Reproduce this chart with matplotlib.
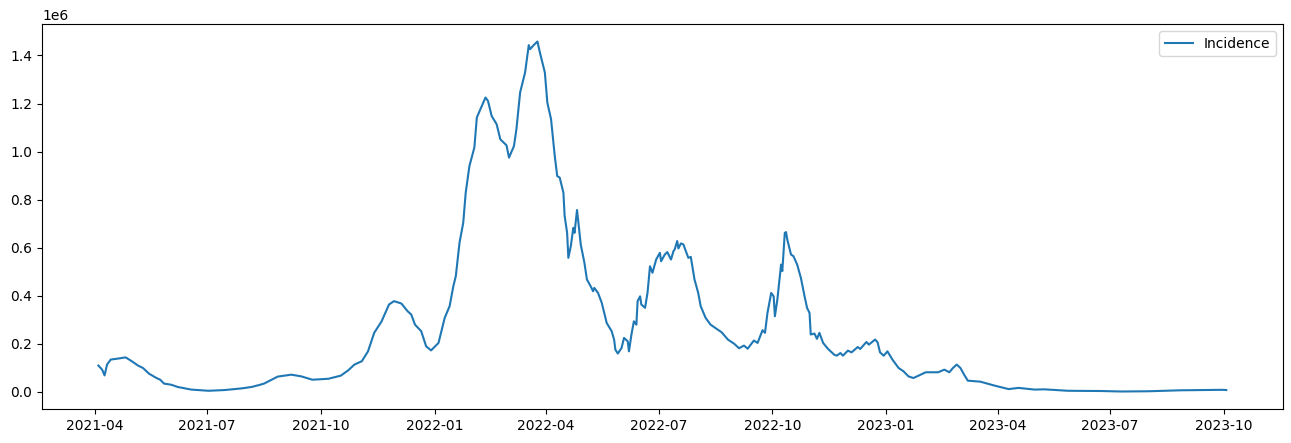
import pandas as pd
from matplotlib import pyplot as plt
import matplotlib.dates as mdates

# -------------------- Data --------------------
dates = [
    "2021-04-04", "2021-04-07", "2021-04-09", "2021-04-11", "2021-04-14", "2021-04-20",
    "2021-04-26", "2021-05-01", "2021-05-06", "2021-05-10", "2021-05-15", "2021-05-21",
    "2021-05-24", "2021-05-27", "2021-06-02", "2021-06-07", "2021-06-18", "2021-07-02",
    "2021-07-15", "2021-07-29", "2021-08-06", "2021-08-12", "2021-08-16", "2021-08-27",
    "2021-09-07", "2021-09-15", "2021-09-24", "2021-10-07", "2021-10-17", "2021-10-23",
    "2021-10-28", "2021-11-03", "2021-11-08", "2021-11-13", "2021-11-19", "2021-11-25",
    "2021-11-29", "2021-12-05", "2021-12-10", "2021-12-13", "2021-12-16", "2021-12-21",
    "2021-12-25", "2021-12-29", "2022-01-04", "2022-01-09", "2022-01-13", "2022-01-16",
    "2022-01-18", "2022-01-21", "2022-01-24", "2022-01-26", "2022-01-29", "2022-02-02",
    "2022-02-04", "2022-02-08", "2022-02-11", "2022-02-13", "2022-02-16", "2022-02-20",
    "2022-02-23", "2022-02-28", "2022-03-02", "2022-03-06", "2022-03-08", "2022-03-11",
    "2022-03-15", "2022-03-18", "2022-03-19", "2022-03-22", "2022-03-25", "2022-03-27",
    "2022-03-31", "2022-04-02", "2022-04-05", "2022-04-08", "2022-04-10", "2022-04-12",
    "2022-04-15", "2022-04-16", "2022-04-18", "2022-04-19", "2022-04-21", "2022-04-23",
    "2022-04-24", "2022-04-26", "2022-04-27", "2022-04-29", "2022-05-02", "2022-05-04",
    "2022-05-07", "2022-05-09", "2022-05-10", "2022-05-13", "2022-05-16", "2022-05-20",
    "2022-05-24", "2022-05-26", "2022-05-27", "2022-05-29", "2022-06-01", "2022-06-03",
    "2022-06-06", "2022-06-07", "2022-06-09", "2022-06-11", "2022-06-13", "2022-06-14",
    "2022-06-16", "2022-06-17", "2022-06-20", "2022-06-22", "2022-06-24", "2022-06-26",
    "2022-06-29", "2022-07-02", "2022-07-03", "2022-07-06", "2022-07-08", "2022-07-11",
    "2022-07-13", "2022-07-14", "2022-07-16", "2022-07-17", "2022-07-19", "2022-07-21",
    "2022-07-25", "2022-07-27", "2022-07-30", "2022-08-02", "2022-08-04", "2022-08-08",
    "2022-08-12", "2022-08-17", "2022-08-21", "2022-08-26", "2022-08-31", "2022-09-04",
    "2022-09-08", "2022-09-11", "2022-09-16", "2022-09-19", "2022-09-23", "2022-09-25",
    "2022-09-27", "2022-09-30", "2022-10-02", "2022-10-03", "2022-10-05", "2022-10-08",
    "2022-10-09", "2022-10-11", "2022-10-12", "2022-10-13", "2022-10-16", "2022-10-18",
    "2022-10-21", "2022-10-24", "2022-10-27", "2022-10-29", "2022-10-31", "2022-11-01",
    "2022-11-04", "2022-11-06", "2022-11-08", "2022-11-11", "2022-11-15", "2022-11-20",
    "2022-11-22", "2022-11-25", "2022-11-27", "2022-12-01", "2022-12-04", "2022-12-09",
    "2022-12-11", "2022-12-16", "2022-12-18", "2022-12-23", "2022-12-25", "2022-12-27",
    "2022-12-30", "2023-01-02", "2023-01-06", "2023-01-11", "2023-01-15", "2023-01-19",
    "2023-01-23", "2023-01-28", "2023-02-02", "2023-02-12", "2023-02-17", "2023-02-21",
    "2023-02-24", "2023-02-27", "2023-03-02", "2023-03-05", "2023-03-08", "2023-03-18",
    "2023-03-30", "2023-04-10", "2023-04-18", "2023-05-01", "2023-05-09", "2023-05-28",
    "2023-06-24", "2023-07-10", "2023-08-01", "2023-08-27", "2023-09-13", "2023-09-30",
    "2023-10-03",
]

incidence = [
    110000, 93000, 69000, 114000, 135000, 139000,
    144000, 128000, 110000, 100000, 76000, 58000,
    51000, 35000, 30000, 21000, 10000, 5000,
    8000, 15000, 21000, 29000, 35000, 64000,
    72000, 65000, 51000, 55000, 68000, 90000,
    114000, 128000, 169000, 246000, 294000, 364000,
    378000, 368000, 336000, 322000, 280000, 253000,
    190000, 173000, 204000, 308000, 357000, 440000,
    482000, 621000, 704000, 829000, 940000, 1017000,
    1142000, 1190000, 1225000, 1211000, 1148000, 1114000,
    1051000, 1026000, 975000, 1023000, 1093000, 1246000,
    1329000, 1443000, 1426000, 1443000, 1458000, 1412000,
    1329000, 1204000, 1135000, 982000, 898000, 892000,
    829000, 732000, 662000, 558000, 607000, 683000,
    662000, 757000, 711000, 614000, 537000, 468000,
    440000, 419000, 433000, 412000, 371000, 287000,
    253000, 218000, 176000, 160000, 183000, 225000,
    211000, 169000, 239000, 294000, 280000, 378000,
    398000, 364000, 350000, 412000, 523000, 496000,
    551000, 579000, 544000, 572000, 582000, 551000,
    586000, 593000, 628000, 597000, 618000, 614000,
    558000, 562000, 468000, 412000, 357000, 308000,
    280000, 262000, 248000, 218000, 201000, 182000,
    193000, 180000, 214000, 204000, 257000, 246000,
    329000, 412000, 398000, 315000, 385000, 530000,
    503000, 662000, 665000, 635000, 572000, 565000,
    530000, 475000, 398000, 350000, 329000, 239000,
    243000, 221000, 246000, 204000, 179000, 155000,
    151000, 162000, 151000, 172000, 165000, 187000,
    179000, 208000, 197000, 218000, 207000, 165000,
    151000, 169000, 135000, 100000, 86000, 65000,
    58000, 70000, 82000, 82000, 93000, 82000,
    100000, 114000, 100000, 72000, 47000, 43000,
    26000, 12000, 17000, 10000, 11000, 5000,
    4000, 2000, 3000, 7000, 8000, 9000,
    8000,
]

# -------------------- Plot --------------------
df = pd.DataFrame({"Incidence": incidence}, index=pd.to_datetime(dates))

fig = plt.figure(figsize=(12.91, 4.43), dpi=100)
ax = fig.add_axes([42 / 1291, 34 / 443, 1240.7 / 1291, 385 / 443])
ax.plot(df.index, df["Incidence"], color="#1f77b4", lw=1.5, label="Incidence")

ax.xaxis.set_major_locator(mdates.MonthLocator(bymonth=[1, 4, 7, 10]))
ax.xaxis.set_major_formatter(mdates.DateFormatter("%Y-%m"))
ax.legend(loc="upper right")

fig.savefig("out.png", dpi=100)
